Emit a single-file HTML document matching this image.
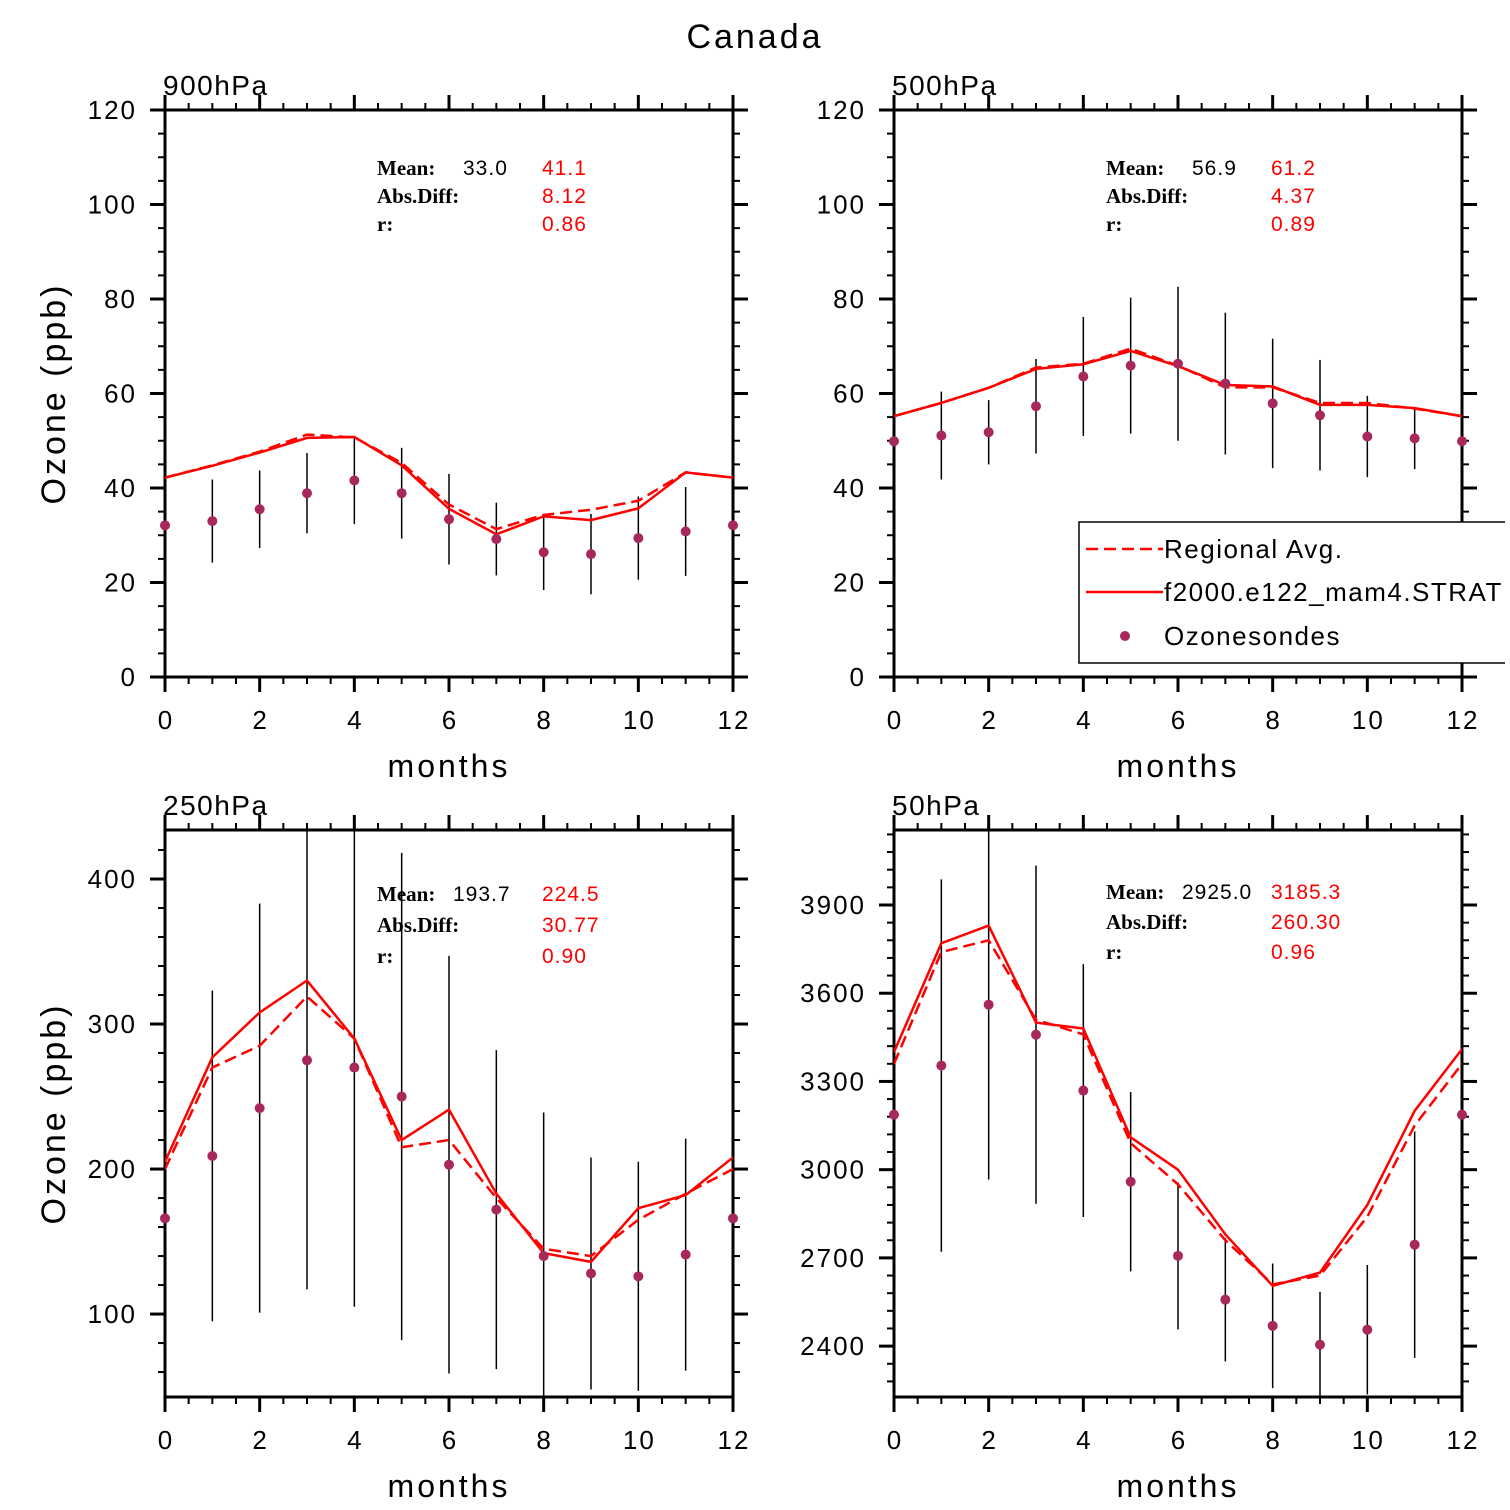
<!DOCTYPE html>
<html><head><meta charset="utf-8"><style>
body{margin:0;background:#fff}
svg{display:block;font-family:"Liberation Sans",sans-serif}
</style></head><body>
<svg id="chart" width="1510" height="1510" viewBox="0 0 1510 1510">
<defs><clipPath id="legclip"><rect x="0" y="0" width="1505" height="1510"/></clipPath></defs>
<text x="755" y="48" text-anchor="middle" font-size="34" letter-spacing="3">Canada</text>
</svg>
<script>
const months = [0,1,2,3,4,5,6,7,8,9,10,11,12];
const p1Obs = [32.1,33,35.5,38.9,41.6,38.9,33.4,29.2,26.4,26,29.4,30.8,32.1];
const p1Err = [0,8.8,8.2,8.5,9.2,9.6,9.6,7.7,8,8.5,8.8,9.4,0];
const p1Model = [42.2,44.7,47.5,50.6,50.8,44.8,35.6,30.2,34,33.2,35.7,43.3,42.2];
const p1Reg = [42.2,44.8,47.7,51.3,50.7,45.3,36.5,31.3,34.3,35.4,37.3,43.3,42.2];
const p2Obs = [49.9,51.1,51.8,57.3,63.6,65.9,66.3,62.1,57.9,55.4,50.9,50.5,49.9];
const p2Err = [0,9.3,6.8,10,12.6,14.4,16.3,15,13.7,11.7,8.6,6.5,0];
const p2Model = [55.2,58,61.2,65.2,66.2,69,65.8,61.8,61.5,57.6,57.6,56.9,55.2];
const p2Reg = [55.2,58,61.2,65.5,66.3,69.5,65.9,61.3,61.3,58,58,56.8,55.2];
const p3Obs = [166,209,242,275,270,250,203,172,140,128,126,141,166];
const p3Err = [0,114,141,158,165,168,144,110,99,80,79,80,0];
const p3Model = [205,277,308,330,290,220,241,183,142,136,173,182,208];
const p3Reg = [200,270,285,319,290,215,220,180,145,140,165,183,200];
const p4Obs = [3187,3354,3561,3459,3269,2959,2707,2558,2469,2405,2456,2745,3187];
const p4Err = [0,633,595,575,430,305,250,210,212,180,220,385,0];
const p4Model = [3400,3770,3830,3500,3480,3110,3000,2780,2605,2650,2880,3200,3410];
const p4Reg = [3360,3740,3780,3510,3460,3090,2950,2760,2610,2640,2840,3150,3360];
const yTicks1 = [0,20,40,60,80,100,120];
const yTicks3 = [100,200,300,400];
const yTicks4 = [2400,2700,3000,3300,3600,3900];
const xTicks = [0,2,4,6,8,10,12];
const stats1 = ["33.0","41.1","8.12","0.86"];
const stats2 = ["56.9","61.2","4.37","0.89"];
const stats3 = ["193.7","224.5","30.77","0.90"];
const stats4 = ["2925.0","3185.3","260.30","0.96"];

const NS="http://www.w3.org/2000/svg";
const svg=document.getElementById('chart');
function mk(tag,attrs,parent){const e=document.createElementNS(NS,tag);for(const k in attrs)e.setAttribute(k,attrs[k]);(parent||svg).appendChild(e);return e;}

function panel(o){
  const g=mk('g',{});
  
  
  const L=o.x0,R=o.x0+568,T=o.y0,B=o.y0+567;
  const xs=v=>L+(v-0)/12*(R-L);
  const ys=v=>B-(v-o.ymin)/(o.ymax-o.ymin)*(B-T);
  const clip='clip-'+o.name;
  const cp=mk('clipPath',{id:clip},g);mk('rect',{x:L,y:T,width:R-L,height:B-T},cp);
  for(let v=0;v<=12.001;v+=0.5){const x=xs(v);const maj=Math.abs(v%2)<1e-6;const len=maj?15:7;
    mk('line',{x1:x,y1:B,x2:x,y2:B+len,stroke:'#000','stroke-width':maj?3:2},g);
    mk('line',{x1:x,y1:T,x2:x,y2:T-len,stroke:'#000','stroke-width':maj?3:2},g);}
  for(let v=Math.ceil(o.ymin/o.minor)*o.minor;v<=o.ymax+1e-6;v+=o.minor){const y=ys(v);const maj=Math.abs(v%o.major)<1e-6;const len=maj?15:7;
    mk('line',{x1:L,y1:y,x2:L-len,y2:y,stroke:'#000','stroke-width':maj?3:2},g);
    mk('line',{x1:R,y1:y,x2:R+len,y2:y,stroke:'#000','stroke-width':maj?3:2},g);}
  mk('rect',{x:L,y:T,width:R-L,height:B-T,fill:'none',stroke:'#000','stroke-width':3},g);
  o.yt.forEach(v=>{const t=mk('text',{x:L-28,y:ys(v)+9,'text-anchor':'end','font-size':26,'letter-spacing':2},g);t.textContent=v;
    });
  xTicks.forEach(v=>{const t=mk('text',{x:xs(v)+1,y:B+52,'text-anchor':'middle','font-size':26,'letter-spacing':2},g);t.textContent=v;
    });
  let t=mk('text',{x:(L+R)/2,y:B+100,'text-anchor':'middle','font-size':32,'letter-spacing':3},g);t.textContent='months';
  
  t=mk('text',{x:L-2,y:T-15,'font-size':28,'letter-spacing':1.5},g);t.textContent=o.level;
  
  if(o.ylabel){t=mk('text',{x:0,y:0,'font-size':34,'text-anchor':'middle','letter-spacing':3,transform:`translate(${L-100},${(T+B)/2}) rotate(-90)`},g);t.textContent='Ozone (ppb)';
    }
  const dg=mk('g',{'clip-path':`url(#${clip})`},g);
  months.forEach((m,i)=>{if(o.err[i]>0){const l=mk('line',{x1:xs(m),x2:xs(m),y1:ys(o.obs[i]-o.err[i]),y2:ys(o.obs[i]+o.err[i]),stroke:'#000','stroke-width':1.5},dg);
    }});
  const pts=a=>a.map((v,i)=>xs(months[i])+','+ys(v)).join(' ');
  let pl=mk('polyline',{points:pts(o.reg),fill:'none',stroke:'#f00','stroke-width':2.5,'stroke-dasharray':'12,6'},dg);
  
  pl=mk('polyline',{points:pts(o.model),fill:'none',stroke:'#f00','stroke-width':2.5},dg);
  
  months.forEach((m,i)=>{const c=mk('circle',{cx:xs(m),cy:ys(o.obs[i]),r:5,fill:'#a8285c'},g);
    });
  const sx=L+212, sy=T+o.sy;
  const st=o.stats;const lab=['Mean:','Abs.Diff:','r:'];
  lab.forEach((s,i)=>{const tt=mk('text',{x:sx,y:sy+i*o.sd,'font-size':21,'font-weight':'bold','font-family':'Liberation Serif, serif'},g);tt.textContent=s;
    });
  let tt=mk('text',{x:sx+o.mx,y:sy,'font-size':21,'letter-spacing':1},g);tt.textContent=st[0];
  
  [st[1],st[2],st[3]].forEach((s,i)=>{const u=mk('text',{x:sx+165,y:sy+i*o.sd,'font-size':21,fill:'#f00','letter-spacing':1},g);u.textContent=s;
    });
}
panel({name:'panel-900hpa',level:'900hPa',x0:165,y0:110,ymin:0,ymax:120,major:20,minor:5,yt:yTicks1,obs:p1Obs,err:p1Err,model:p1Model,reg:p1Reg,stats:stats1,ylabel:true,sy:65,sd:28,mx:86});
panel({name:'panel-500hpa',level:'500hPa',x0:894,y0:110,ymin:0,ymax:120,major:20,minor:5,yt:yTicks1,obs:p2Obs,err:p2Err,model:p2Model,reg:p2Reg,stats:stats2,ylabel:false,sy:65,sd:28,mx:86});
panel({name:'panel-250hpa',level:'250hPa',x0:165,y0:830,ymin:42.8,ymax:433.8,major:100,minor:20,yt:yTicks3,obs:p3Obs,err:p3Err,model:p3Model,reg:p3Reg,stats:stats3,ylabel:true,sy:71,sd:31,mx:76});
panel({name:'panel-50hpa',level:'50hPa',x0:894,y0:830,ymin:2227,ymax:4155,major:300,minor:60,yt:yTicks4,obs:p4Obs,err:p4Err,model:p4Model,reg:p4Reg,stats:stats4,ylabel:false,sy:69,sd:30,mx:76});

const lg=mk('g',{'clip-path':'url(#legclip)'});


mk('rect',{x:1079,y:522,width:440,height:141,fill:'#fff',stroke:'#000','stroke-width':1.5},lg);
let e=mk('line',{x1:1086,x2:1163,y1:549,y2:549,stroke:'#f00','stroke-width':2.5,'stroke-dasharray':'12,6'},lg);

e=mk('line',{x1:1086,x2:1163,y1:592,y2:592,stroke:'#f00','stroke-width':2.5},lg);

e=mk('circle',{cx:1125,cy:636,r:5,fill:'#a8285c'},lg);

[['Regional Avg.',558],['f2000.e122_mam4.STRAT',601],['Ozonesondes',645]].forEach(([s,y])=>{const t=mk('text',{x:1164,y:y,'font-size':26,'letter-spacing':1.5},lg);t.textContent=s;
  });
</script>
</body></html>
